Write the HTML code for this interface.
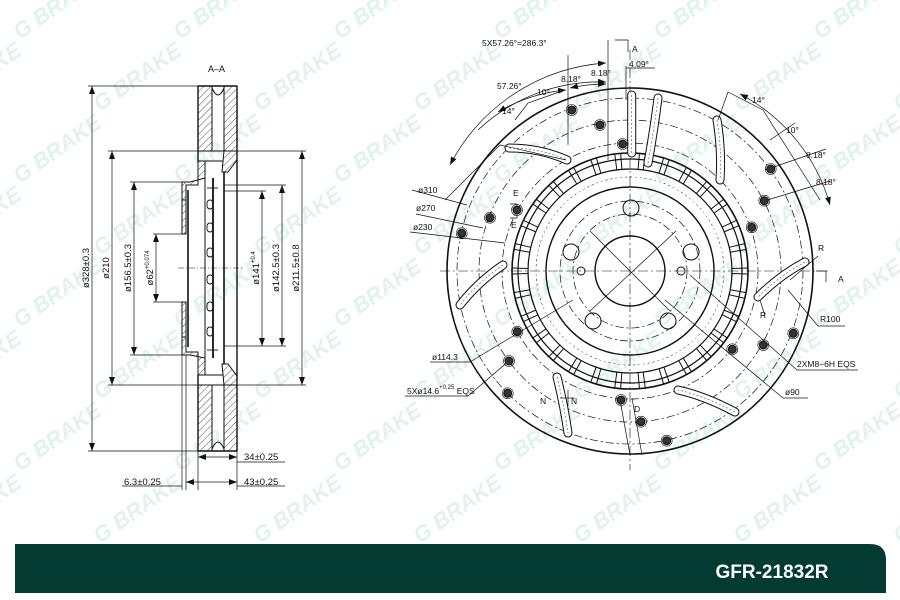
<!DOCTYPE html>
<html><head><meta charset="utf-8">
<style>
html,body{margin:0;padding:0;background:#fff;}
svg{display:block}
text{font-family:"Liberation Sans",sans-serif;}
</style></head>
<body>
<svg id="s" width="900" height="600" viewBox="0 0 900 600" xmlns="http://www.w3.org/2000/svg">
<defs>
<pattern id="h" width="5" height="5" patternUnits="userSpaceOnUse" patternTransform="rotate(45)">
<rect width="5" height="5" fill="#fff"/><line x1="0" y1="0" x2="0" y2="5" stroke="#222" stroke-width="0.8"/>
</pattern>
<marker id="ar" markerWidth="8" markerHeight="6" refX="8" refY="3" orient="auto-start-reverse" markerUnits="userSpaceOnUse"><path d="M0,0 L8,3 L0,6z" fill="#111"/></marker>
</defs>
<g id="wm" fill="#e2f3eb" font-weight="bold" font-style="italic" font-size="22"></g>

<!-- LEFT SECTION -->
<g stroke="#111" fill="none" stroke-width="1">
<text x="208" y="72" font-size="9" fill="#111" stroke="none">A–A</text>
<rect x="198" y="86" width="14" height="65" fill="url(#h)"/>
<rect x="224" y="86" width="13" height="65" fill="url(#h)"/>
<rect x="198" y="385" width="14" height="66" fill="url(#h)"/>
<rect x="224" y="385" width="13" height="66" fill="url(#h)"/>
<path d="M212,88 Q218,102 224,88" />
<path d="M212,449 Q218,435 224,449" />
<line x1="198" y1="86" x2="237" y2="86" stroke-width="1.4"/>
<line x1="198" y1="451" x2="237" y2="451" stroke-width="1.4"/>
<rect x="198" y="151" width="26" height="10"/>
<rect x="198" y="375" width="26" height="10"/>
<path d="M198,161 L205,161 L205,178 L190,182 L182,182 L182,200 L186,200 L186,185 L198,185 Z" fill="url(#h)"/>
<path d="M198,375 L205,375 L205,358 L190,355 L182,355 L182,337 L186,337 L186,352 L198,352 Z" fill="url(#h)"/>
<path d="M224,151 L237,151 L237,160 L228,172 L222,172 Z" fill="url(#h)"/>
<path d="M224,385 L237,385 L237,376 L228,364 L222,364 Z" fill="url(#h)"/>
<rect x="182" y="200" width="4" height="34" fill="url(#h)"/>
<rect x="182" y="302" width="4" height="35" fill="url(#h)"/>
<line x1="188" y1="190" x2="188" y2="347" stroke-width="1.6"/>
<line x1="213" y1="178" x2="213" y2="358" stroke-width="1.8"/>
<line x1="205" y1="178" x2="205" y2="358"/>
<line x1="224" y1="172" x2="224" y2="364" stroke-width="1.6"/>
<line x1="237" y1="86" x2="237" y2="451" stroke-width="1.4"/>
<line x1="198" y1="86" x2="198" y2="161" stroke-width="1.4"/>
<line x1="198" y1="375" x2="198" y2="451" stroke-width="1.4"/>
<g stroke-width="0.9">
<rect x="207" y="200" width="6" height="9" rx="3"/><rect x="207" y="223" width="6" height="9" rx="3"/>
<rect x="207" y="248" width="6" height="9" rx="3"/><rect x="207" y="275" width="6" height="9" rx="3"/>
<rect x="207" y="302" width="6" height="9" rx="3"/><rect x="207" y="327" width="6" height="9" rx="3"/>
<line x1="207" y1="188" x2="218" y2="188"/><line x1="207" y1="350" x2="218" y2="350"/>
</g>
<line x1="178" y1="268" x2="242" y2="268" stroke-dasharray="6,2,1,2" stroke-width="0.6"/>
<g stroke-width="0.7">
<line x1="88" y1="86" x2="198" y2="86"/><line x1="88" y1="451" x2="198" y2="451"/>
<line x1="92" y1="86" x2="92" y2="451" marker-start="url(#ar)" marker-end="url(#ar)"/>
<line x1="108" y1="151" x2="198" y2="151"/><line x1="108" y1="385" x2="198" y2="385"/>
<line x1="112" y1="151" x2="112" y2="385" marker-start="url(#ar)" marker-end="url(#ar)"/>
<line x1="130" y1="182" x2="182" y2="182"/><line x1="130" y1="355" x2="182" y2="355"/>
<line x1="134" y1="182" x2="134" y2="355" marker-start="url(#ar)" marker-end="url(#ar)"/>
<line x1="153" y1="234" x2="186" y2="234"/><line x1="153" y1="302" x2="186" y2="302"/>
<line x1="156" y1="234" x2="156" y2="302" marker-start="url(#ar)" marker-end="url(#ar)"/>
<line x1="224" y1="191" x2="266" y2="191"/><line x1="224" y1="346" x2="286" y2="346"/>
<line x1="262" y1="191" x2="262" y2="346" marker-start="url(#ar)" marker-end="url(#ar)"/>
<line x1="224" y1="185" x2="286" y2="185"/>
<line x1="282" y1="185" x2="282" y2="346" marker-start="url(#ar)" marker-end="url(#ar)"/>
<line x1="237" y1="151" x2="306" y2="151"/><line x1="237" y1="385" x2="306" y2="385"/>
<line x1="302" y1="151" x2="302" y2="385" marker-start="url(#ar)" marker-end="url(#ar)"/>
<line x1="198" y1="451" x2="198" y2="490"/><line x1="237" y1="451" x2="237" y2="490"/>
<line x1="182" y1="355" x2="182" y2="490"/><line x1="186" y1="355" x2="186" y2="490"/>
<line x1="198" y1="457" x2="237" y2="457" marker-start="url(#ar)" marker-end="url(#ar)"/>
<line x1="237" y1="462" x2="285" y2="462"/>
<line x1="186" y1="482" x2="237" y2="482" marker-start="url(#ar)" marker-end="url(#ar)"/>
<line x1="237" y1="486" x2="285" y2="486"/>
<line x1="122" y1="486" x2="182" y2="486"/>
</g>
</g>
<g font-size="9.5" fill="#111">
<text transform="translate(89,268) rotate(-90)" text-anchor="middle">ø328±0.3</text>
<text transform="translate(109,268) rotate(-90)" text-anchor="middle">ø210</text>
<text transform="translate(131,268) rotate(-90)" text-anchor="middle">ø156.5±0.3</text>
<text transform="translate(153,268) rotate(-90)" text-anchor="middle">ø62<tspan font-size="6" dy="-4">+0.074</tspan></text>
<text transform="translate(259,268) rotate(-90)" text-anchor="middle">ø141<tspan font-size="6" dy="-4">+0.4</tspan></text>
<text transform="translate(279,268) rotate(-90)" text-anchor="middle">ø142.5±0.3</text>
<text transform="translate(299,268) rotate(-90)" text-anchor="middle">ø211.5±0.8</text>
<text x="244" y="460">34±0.25</text>
<text x="244" y="485">43±0.25</text>
<text x="124" y="485">6.3±0.25</text>
</g>

<!-- RIGHT DISC -->
<g stroke="#111" fill="none" stroke-width="1">
<circle cx="630" cy="271" r="183" stroke-width="1.6"/>
<circle cx="630" cy="271" r="173" stroke-dasharray="8,3,2,3" stroke-width="0.7"/>
<circle cx="630" cy="271" r="151" stroke-dasharray="8,3,2,3" stroke-width="0.7"/>
<circle cx="630" cy="271" r="128" stroke-dasharray="8,3,2,3" stroke-width="0.7"/>
<circle cx="630" cy="271" r="118" stroke-width="1.6"/>
<circle cx="630" cy="271" r="112" stroke-width="1.2"/>
<circle cx="630" cy="271" r="102" stroke-width="1.2"/>
<circle cx="630" cy="271" r="84" stroke-width="1.4"/>
<circle cx="630" cy="271" r="70" stroke-dasharray="8,3,2,3" stroke-width="0.7"/>
<circle cx="630" cy="271" r="57" stroke-dasharray="8,3,2,3" stroke-width="0.7"/>
<circle cx="630" cy="271" r="35" stroke-width="1.4"/>
<g id="vanes" stroke-width="1"></g>
<circle cx="631" cy="208" r="8"/><circle cx="571" cy="252" r="8"/><circle cx="691" cy="252" r="8"/>
<circle cx="593" cy="321" r="8"/><circle cx="668" cy="321" r="8"/>
<circle cx="581" cy="271" r="4"/><circle cx="681" cy="271" r="4"/>
<line x1="590" y1="231" x2="670" y2="311" stroke-width="0.7"/>
<line x1="590" y1="311" x2="676" y2="231" stroke-width="0.7"/>
<line x1="440" y1="271" x2="830" y2="271" stroke-dasharray="10,3,2,3" stroke-width="0.6"/>
<line x1="630" y1="50" x2="630" y2="470" stroke-dasharray="10,3,2,3" stroke-width="0.6"/>
<g id="slots"></g>
<g stroke-width="0.7">
<line x1="412" y1="190" x2="467" y2="205"/><line x1="416" y1="214" x2="483" y2="228"/><line x1="410" y1="232" x2="505" y2="243"/>
<line x1="430" y1="362" x2="470" y2="362"/><line x1="470" y1="362" x2="573" y2="300"/>
<line x1="405" y1="396" x2="468" y2="396"/><line x1="468" y1="396" x2="510" y2="360"/>
<line x1="797" y1="370" x2="858" y2="370"/><line x1="797" y1="370" x2="690" y2="275"/>
<line x1="783" y1="398" x2="808" y2="398"/><line x1="783" y1="398" x2="665" y2="300"/>
<line x1="818" y1="326" x2="845" y2="326"/><line x1="818" y1="326" x2="788" y2="290"/>
<line x1="818" y1="256" x2="790" y2="280"/><line x1="760" y1="300" x2="765" y2="316"/>
<line x1="608" y1="40" x2="608" y2="160"/><line x1="626" y1="66" x2="626" y2="100"/>
<line x1="626" y1="68" x2="655" y2="68"/>
<line x1="568" y1="55" x2="568" y2="145"/>
<path d="M450,165 A190,190 0 0 1 606,63" marker-start="url(#ar)" marker-end="url(#ar)"/>
<path d="M478,130 A178,178 0 0 1 606,82" marker-end="url(#ar)"/>
<path d="M498,112 A165,165 0 0 1 566,90" marker-start="url(#ar)" marker-end="url(#ar)"/>
<path d="M570,88 A165,165 0 0 1 606,84" marker-start="url(#ar)" marker-end="url(#ar)"/>
<path d="M515,120 L528,103 L565,90" />
<path d="M445,200 L500,145 L566,160" />
<path d="M728,92 L763,110 M728,92 L718,120 M763,110 L820,200" />
<path d="M740,94 A180,180 0 0 1 830,205" marker-start="url(#ar)" marker-end="url(#ar)"/>
<line x1="765" y1="170" x2="826" y2="149"/><line x1="764" y1="201" x2="830" y2="181"/><line x1="770" y1="140" x2="795" y2="123"/>
<line x1="560" y1="398" x2="575" y2="398"/><line x1="568" y1="390" x2="568" y2="406"/>
<line x1="632" y1="398" x2="642" y2="455"/><line x1="620" y1="400" x2="630" y2="455"/>
<path d="M615,40 L628,40 L628,52"/><path d="M816,271 L826,271 L826,282"/>
<path d="M510,204 L517,204 L517,218 L510,218"/>
</g>
<g id="holes"></g>
</g>
<g font-size="8.5" fill="#111">
<text x="482" y="46">5X57.26°=286.3°</text>
<text x="632" y="52">A</text>
<text x="629" y="67">4.09°</text>
<text x="497" y="89">57.26°</text>
<text x="561" y="82">8.18°</text>
<text x="591" y="76">8.18°</text>
<text x="537" y="95">10°</text>
<text x="502" y="114">14°</text>
<text x="752" y="103">14°</text>
<text x="786" y="133">10°</text>
<text x="806" y="158">8.18°</text>
<text x="816" y="185">8.18°</text>
<text x="418" y="193">ø310</text>
<text x="416" y="211">ø270</text>
<text x="413" y="230">ø230</text>
<text x="513" y="196">E</text><text x="511" y="228">E</text>
<text x="818" y="251">R</text><text x="760" y="318">R</text>
<text x="838" y="282">A</text>
<text x="820" y="322">R100</text>
<text x="797" y="367">2XM8−6H  EQS</text>
<text x="785" y="395">ø90</text>
<text x="432" y="360">ø114.3</text>
<text x="407" y="394">5Xø14.6<tspan font-size="6" dy="-5">+0.25</tspan><tspan dy="5" font-size="8.5">  EQS</tspan></text>
<text x="540" y="404">N</text><text x="571" y="404">N</text>
<text x="634" y="412">D</text>
</g>

<path d="M15,544 L870,544 Q886,544 886,560 L886,593 L15,593 Z" fill="#033b33"/>
<text x="772" y="578" font-size="19" font-weight="bold" fill="#fff" text-anchor="middle">GFR-21832R</text>
</svg>
<script>
var NS="http://www.w3.org/2000/svg";
function el(p,t,a){var e=document.createElementNS(NS,t);for(var k in a)e.setAttribute(k,a[k]);p.appendChild(e);return e;}
var cx=630,cy=271;
var v=document.getElementById('vanes');
for(var a=0;a<360;a+=12){var r=a*Math.PI/180;
 for(var d=-1;d<=1;d+=2){var o=d*0.025;
 el(v,'line',{x1:cx+102*Math.cos(r+o),y1:cy+102*Math.sin(r+o),x2:cx+118*Math.cos(r+o),y2:cy+118*Math.sin(r+o)});}
 var o2=0.16;
 el(v,'path',{d:'M'+(cx+94*Math.cos(r-o2))+','+(cy+94*Math.sin(r-o2))+' A94,94 0 0 1 '+(cx+94*Math.cos(r+o2))+','+(cy+94*Math.sin(r+o2)),'stroke-dasharray':'2,3','stroke-width':0.4});
}
var H=[[571.7,110],[600,125],[622.7,144],[770.7,169],[764.3,200.7],[751.7,227.3],[490,217.7],[461.7,233.3],[517,210],[517.3,331.7],[509,361],[507.7,393.3],[621,400],[641,421.7],[666.7,440.7],[732.3,349.3],[763.3,345],[793.3,333.3]];
var h=document.getElementById('holes');
H.forEach(function(p){el(h,'circle',{cx:p[0],cy:p[1],r:4,fill:'#333'});el(h,'circle',{cx:p[0],cy:p[1],r:5.5,fill:'none','stroke-width':0.6});});
var S=[[509,148,540,148,567,160],[717,120,722,150,720,180],[631.7,95,631.7,125,631.7,153],[658,98,654,130,648,163],[805,262,780,275,758,297],[735,412,705,396,678,390],[557,377,564,405,568,433],[503,265,478,282,460,305]];
var g=document.getElementById('slots');
S.forEach(function(q){var d='M'+q[0]+','+q[1]+' Q'+q[2]+','+q[3]+' '+q[4]+','+q[5];
 el(g,'path',{d:d,stroke:'#111','stroke-width':9,'stroke-linecap':'round',fill:'none'});
 el(g,'path',{d:d,stroke:'#fff','stroke-width':7,'stroke-linecap':'round',fill:'none'});
 el(g,'path',{d:d,stroke:'#555','stroke-width':0.6,'stroke-dasharray':'2,2',fill:'none'});});
var w=document.getElementById('wm');
for(var row=0;row<8;row++){for(var col=-1;col<7;col++){
 var x=col*160+(row%2?80:0)+20,y=row*72+40;
 var t=el(w,'text',{x:0,y:0,transform:'translate('+x+','+y+') rotate(-35)'});t.textContent='G BRAKE';}}
</script>
</body></html>
